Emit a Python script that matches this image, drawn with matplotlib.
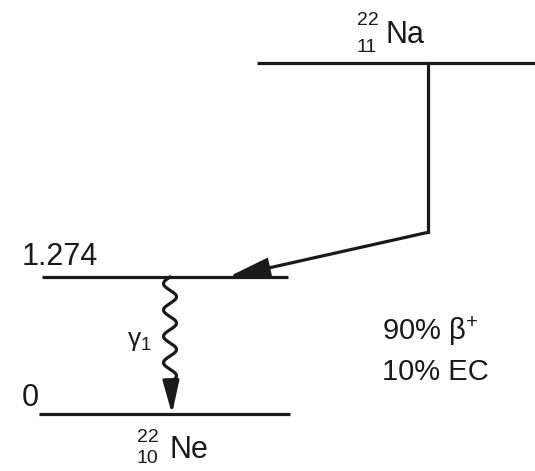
import numpy as np
import matplotlib
matplotlib.use("Agg")
import matplotlib.pyplot as plt
from matplotlib.patches import FancyArrowPatch

plt.rcParams['font.family'] = ['Liberation Sans', 'DejaVu Sans']
plt.rcParams['mathtext.fontset'] = 'custom'
plt.rcParams['mathtext.rm'] = 'Liberation Sans'
plt.rcParams['mathtext.it'] = 'Liberation Sans'

# level energies (MeV); parent level drawn schematically above
parent_energy = 3.265
kink_energy = 1.69
levels = [1.274, 0.0]
level_labels = ['1.274', '0']
parent = ('22', '11', 'Na')
daughter = ('22', '10', 'Ne')
branches = ['90% β$^{+}$', '10% EC']
gamma_label = 'γ$_1$'

ink = '#1a1a1a'
lw = 2.3

fig = plt.figure(figsize=(5.35, 4.71), dpi=100)
ax = fig.add_axes([0, 0, 1, 1])
ax.set_xlim(0, 535)
ax.set_ylim(-0.530, 3.851)
ax.axis('off')

# horizontal levels
ax.plot([257, 535], [parent_energy] * 2, color=ink, lw=lw, solid_capstyle='butt')
ax.plot([42, 288], [levels[0]] * 2, color=ink, lw=lw, solid_capstyle='butt')
ax.plot([39, 290], [levels[1]] * 2, color=ink, lw=lw, solid_capstyle='butt')

# decay branch: down from the parent then into the 1.274 level
ax.plot([428, 428], [parent_energy, kink_energy], color=ink, lw=lw,
        solid_capstyle='projecting')
ax.add_patch(FancyArrowPatch((428, kink_energy), (228, levels[0]),
                             arrowstyle='-|>,head_length=2.5,head_width=0.6',
                             mutation_scale=10, lw=lw, color=ink,
                             shrinkA=0, shrinkB=0, joinstyle='miter'))

# gamma transition drawn as a wiggle with an arrowhead
e = np.linspace(levels[0], 0.30, 200)
period = 0.245
xw = 170 + 6.5 * np.sin(2 * np.pi * (levels[0] - e) / period + np.pi)
ax.plot(xw, e, color=ink, lw=lw)
ax.add_patch(FancyArrowPatch((xw[-1], e[-1]), (172, levels[1]),
                             arrowstyle='-|>,head_length=2.0,head_width=0.5',
                             mutation_scale=10, lw=lw, color=ink,
                             shrinkA=0, shrinkB=0))

# level energy labels
for E, lab in zip(levels, level_labels):
    ax.annotate(lab, xy=(22, E), xytext=(0, 8 if lab == '0' else 12),
                textcoords='offset pixels', ha='left', va='baseline',
                fontsize=22, color=ink)

# nuclide labels
ax.annotate(parent[0], xy=(357, parent_energy), xytext=(0, 38),
            textcoords='offset pixels', fontsize=14, color=ink, va='baseline')
ax.annotate(parent[1], xy=(357, parent_energy), xytext=(0, 11),
            textcoords='offset pixels', fontsize=14, color=ink, va='baseline')
ax.annotate(parent[2], xy=(386, parent_energy), xytext=(0, 20),
            textcoords='offset pixels', fontsize=22, color=ink, va='baseline')

ax.annotate(daughter[0], xy=(137, levels[1]), xytext=(0, -28),
            textcoords='offset pixels', fontsize=14, color=ink, va='baseline')
ax.annotate(daughter[1], xy=(137, levels[1]), xytext=(0, -49),
            textcoords='offset pixels', fontsize=14, color=ink, va='baseline')
ax.annotate(daughter[2], xy=(169, levels[1]), xytext=(0, -44),
            textcoords='offset pixels', fontsize=22, color=ink, va='baseline')

ax.text(127, 0.68, gamma_label, fontsize=19, color=ink, ha='left', va='center')

for i, lab in enumerate(branches):
    ax.annotate(lab, xy=(382, levels[1]), xytext=(0, 74 - 40 * i),
                textcoords='offset pixels', fontsize=21, color=ink,
                va='baseline')

fig.savefig('out.png', dpi=100)
